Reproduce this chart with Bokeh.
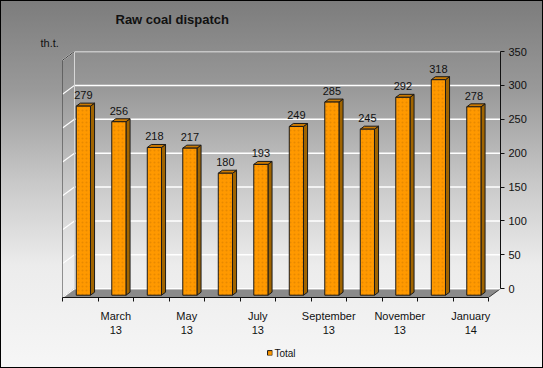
from bokeh.plotting import figure
from bokeh.layouts import column
from bokeh.models import Range1d, FixedTicker, Title, Legend, LegendItem
from bokeh.embed import file_html
from bokeh.resources import INLINE
from bokeh.core.properties import value

# ---- data ----
months = ["February 13", "March 13", "April 13", "May 13", "June 13", "July 13",
          "August 13", "September 13", "October 13", "November 13", "December 13", "January 14"]
totals = [279, 256, 218, 217, 180, 193, 249, 285, 245, 292, 318, 278]
x_tick_labels = ["March\n13", "May\n13", "July\n13", "September\n13", "November\n13", "January\n14"]
y_ticks = [0, 50, 100, 150, 200, 250, 300, 350]
series_name = "Total"
unit_label = "th.t."
chart_title = "Raw coal dispatch"

# ---- 3D geometry (styles) ----
n = len(totals)
DX = 0.338      # depth offset in category units
DY = 13.0       # depth offset in value units
F_FRONT = 0.74  # bar front plane (fraction of depth from back)
F_BACK = 0.40   # bar back plane
HALF_W = 0.2
FONT = value("Liberation Sans")
FRONT_STYLE = dict(fill_color="#ff9900", line_color="#1a1a1a", line_width=1,
                   hatch_pattern="dot", hatch_color="#d97f00", hatch_scale=4, hatch_weight=0.6, hatch_alpha=0.6)

p = figure(width=543, height=338, x_range=Range1d(0, n + DX), y_range=Range1d(-DY, y_ticks[-1]),
           output_backend="svg", toolbar_location=None, title=None,
           x_axis_location="below", y_axis_location="right",
           min_border_left=62, min_border_right=43, min_border_top=51, min_border_bottom=36)
p.background_fill_alpha = 0
p.border_fill_alpha = 0
p.outline_line_alpha = 0
p.grid.visible = False

# floor
p.patch(x=[0, n, n + DX, DX], y=[-DY, -DY, 0, 0], fill_color="#8a8a8a", line_color="#3a3a3a", line_width=1)

# back wall gridlines + left wall gridlines
p.segment(x0=[DX] * len(y_ticks), y0=y_ticks, x1=[n + DX] * len(y_ticks), y1=y_ticks,
          line_color="white", line_width=1.5)
p.segment(x0=[0] * len(y_ticks), y0=[t - DY for t in y_ticks], x1=[DX] * len(y_ticks), y1=y_ticks,
          line_color="white", line_width=1.2)
# wall edges
p.segment(x0=[DX], y0=[0], x1=[DX], y1=[y_ticks[-1]], line_color="#d8d8d8", line_width=1)
p.segment(x0=[0], y0=[-DY], x1=[0], y1=[y_ticks[-1] - DY], line_color="#333333", line_width=1)
p.segment(x0=[0], y0=[y_ticks[-1] - DY], x1=[DX], y1=[y_ticks[-1]], line_color="#333333", line_width=1)

# bars
xc = [i + 0.5 + DX * (1 - F_FRONT) for i in range(n)]
left = [x - HALF_W for x in xc]
right = [x + HALF_W for x in xc]
bottom = [-F_FRONT * DY] * n
top = [v - F_FRONT * DY for v in totals]
sx = (F_FRONT - F_BACK) * DX
sy = (F_FRONT - F_BACK) * DY

side_xs = [[r, r + sx, r + sx, r] for r in right]
side_ys = [[b, b + sy, t + sy, t] for b, t in zip(bottom, top)]
top_xs = [[l, r, r + sx, l + sx] for l, r in zip(left, right)]
top_ys = [[t, t, t + sy, t + sy] for t in top]

p.patches(xs=side_xs, ys=side_ys, fill_color="#a06400", line_color="#1a1a1a", line_width=1)
p.patches(xs=top_xs, ys=top_ys, fill_color="#cc7a00", line_color="#1a1a1a", line_width=1)
p.quad(left=left, right=right, bottom=bottom, top=top, **FRONT_STYLE)

# value labels
p.text(x=xc, y=[v - F_BACK * DY for v in totals], text=[str(v) for v in totals],
       text_align="center", text_baseline="bottom", y_offset=-4,
       text_font=FONT, text_font_size="11px", text_color="#111111")

# axes
ya = p.yaxis[0]
ya.ticker = FixedTicker(ticks=y_ticks)
ya.bounds = (0, y_ticks[-1])
ya.major_tick_out = 4
ya.major_tick_in = 0
ya.minor_tick_out = 0
ya.minor_tick_in = 0
ya.major_label_standoff = 4
ya.axis_line_color = "#111111"
ya.major_tick_line_color = "#111111"
ya.major_label_text_font = "Liberation Sans"
ya.major_label_text_font_size = "11px"
ya.major_label_text_color = "#111111"

xa = p.xaxis[0]
label_pos = [2 * k + 1.5 for k in range(len(x_tick_labels))]
xa.ticker = FixedTicker(ticks=label_pos, minor_ticks=list(range(n + 1)))
xa.bounds = (0, n)
xa.major_label_overrides = {pos: lab for pos, lab in zip(label_pos, x_tick_labels)}
xa.major_tick_out = 0
xa.major_tick_in = 0
xa.minor_tick_out = 4
xa.minor_tick_in = 0
xa.major_label_standoff = 8
xa.axis_line_color = "#111111"
xa.minor_tick_line_color = "#111111"
xa.major_label_text_font = "Liberation Sans"
xa.major_label_text_font_size = "11px"
xa.major_label_text_color = "#111111"

# unit label (nearest the frame) and chart title
p.add_layout(Title(text=unit_label, align="left", offset=-22, standoff=5,
                   text_font="Liberation Sans", text_font_size="11px", text_font_style="normal",
                   text_color="#111111"), "above")
p.add_layout(Title(text=chart_title, align="left", offset=53, standoff=12,
                   text_font="Liberation Sans", text_font_size="13px", text_font_style="bold",
                   text_color="#111111"), "above")

# legend strip below the chart
leg = figure(width=543, height=30, x_range=Range1d(0, 1), y_range=Range1d(0, 1),
             output_backend="svg", toolbar_location=None, title=None,
             x_axis_location=None, y_axis_location=None,
             min_border_left=15, min_border_right=0, min_border_top=0, min_border_bottom=1)
leg.background_fill_alpha = 0
leg.border_fill_alpha = 0
leg.outline_line_alpha = 0
leg.grid.visible = False
# legend key stub (kept outside the visible range)
swatch = leg.quad(left=[-2], right=[-1], bottom=[-2], top=[-1], **FRONT_STYLE)
legend = Legend(items=[LegendItem(label=series_name, renderers=[swatch])], location="center",
                orientation="horizontal", margin=0, padding=0, spacing=0,
                glyph_width=6, glyph_height=6, label_height=10, label_standoff=2,
                label_text_font="Liberation Sans", label_text_font_size="10px",
                label_text_color="#111111",
                border_line_alpha=0, background_fill_alpha=0)
leg.add_layout(legend)

layout = column(p, leg, spacing=0)
layout.styles = {"background": "linear-gradient(to bottom, #7c7c7c 0%, #9a9a9a 25%, #c9c9c9 50%, #ececec 72%, #f6f6f6 100%)",
                 "outline": "1px solid #000", "outline-offset": "-1px"}

open("out.html", "w").write(file_html(layout, INLINE))
